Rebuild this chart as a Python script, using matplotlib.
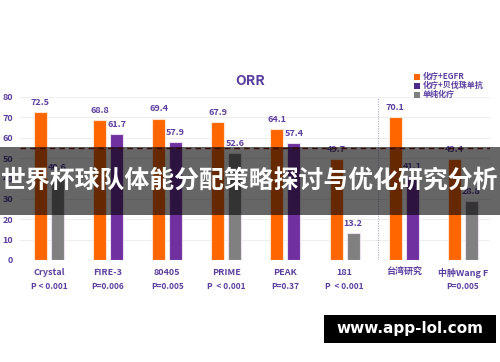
import matplotlib
matplotlib.use("Agg")
import matplotlib.pyplot as plt
from matplotlib.patches import Rectangle

plt.rcParams['font.family'] = ['Noto Sans CJK SC', 'DejaVu Sans']

categories = ["Crystal", "FIRE-3", "80405", "PRIME", "PEAK", "181", "台湾研究", "中肿Wang F"]
p_values = ["P < 0.001", "P=0.006", "P=0.005", "P  < 0.001", "P=0.37", "P  < 0.001", "", "P=0.005"]
egfr = [72.5, 68.8, 69.4, 67.9, 64.1, 49.7, 70.1, 49.4]
second = [40.6, 61.7, 57.9, 52.6, 57.4, 13.2, 41.1, 28.8]
second_kind = ["chemo", "bev", "bev", "chemo", "bev", "chemo", "bev", "chemo"]
legend_labels = ["化疗+EGFR", "化疗+贝伐珠单抗", "单纯化疗"]
y_ticks = [0, 10, 20, 30, 40, 50, 60, 70, 80]
threshold = 55

ORANGE = "#ff6600"
PURPLE = "#7030a0"
GRAY = "#808080"
TXT = "#5b3fa0"
kind_color = {"bev": PURPLE, "chemo": GRAY}

fig = plt.figure(figsize=(5, 3.62), dpi=100)
fig.patch.set_facecolor("white")
ax = fig.add_axes([0.04, 0.2818, 0.94, 0.4503])
ax.set_xlim(-0.49, 7.46)
ax.set_ylim(0, 80)
for s in ax.spines.values():
    s.set_visible(False)
ax.set_yticks(y_ticks)
ax.set_yticklabels([str(t) for t in y_ticks], color=TXT, fontsize=6.5, fontweight="bold")
ax.tick_params(axis="y", length=0, pad=5)
ax.set_xticks([])
for t in y_ticks:
    ax.axhline(t, color="#eeeeee", lw=0.8, zorder=0)

w = 0.22
off = 0.144
xs = list(range(len(categories)))
ax.bar([x - off for x in xs], egfr, width=w, color=ORANGE, edgecolor="#fde3d0", lw=0.8, zorder=2)
ax.bar([x + off for x in xs], second, width=w, color=[kind_color[k] for k in second_kind],
       edgecolor="#e8e0ee", lw=0.8, zorder=2)
for x, v in zip(xs, egfr):
    ax.text(x - off, v + 2.5, f"{v}", ha="center", va="bottom", color=TXT, fontsize=6.5, fontweight="bold")
for x, v in zip(xs, second):
    ax.text(x + off, v + 2.5, f"{v}", ha="center", va="bottom", color=TXT, fontsize=6.5, fontweight="bold")

ax.axhline(threshold, color="#8b1a1a", lw=1.0, ls=(0, (4, 3)), zorder=3)
ax.plot([5.56, 5.56], [0, 80], color="#9a9ac8", lw=0.7, ls=(0, (1, 1.5)), zorder=1)

for x, c, p in zip(xs, categories, p_values):
    ax.text(x, -4, c, ha="center", va="top", color=TXT, fontsize=6.5, fontweight="bold")
    if p:
        ax.text(x, -11, p, ha="center", va="top", color=TXT, fontsize=6, fontweight="bold")

fig.text(0.5, 1 - 81 / 362, "ORR", ha="center", va="center", color=TXT, fontsize=10, fontweight="bold")

legend_colors = [ORANGE, "#4b2a8a", GRAY]
for i, (lab, col) in enumerate(zip(legend_labels, legend_colors)):
    yy = 1 - (77 + i * 8.7) / 362
    fig.patches.append(Rectangle((414 / 500, yy - 0.009), 0.011, 0.016, transform=fig.transFigure,
                                 facecolor=col, edgecolor="none", zorder=5))
    fig.text(423 / 500, yy, lab, ha="left", va="center", color=TXT, fontsize=5.8, fontweight="bold")

# banner overlay
fig.patches.append(Rectangle((0, 1 - 215 / 362), 1, 68 / 362, transform=fig.transFigure,
                             facecolor="black", alpha=0.6, edgecolor="none", zorder=10))
fig.text(0.5, 1 - 181 / 362, "世界杯球队体能分配策略探讨与优化研究分析", ha="center", va="center",
         color="white", fontsize=17.9, fontweight="bold", zorder=11)

# watermark
fig.patches.append(Rectangle((324 / 500, 1 - 343 / 362), 172 / 500, 28 / 362, transform=fig.transFigure,
                             facecolor="black", edgecolor="none", zorder=10))
fig.text(410 / 500, 1 - 329 / 362, "www.app-lol.com", ha="center", va="center",
         color="white", fontsize=11, fontweight="bold", family=["DejaVu Sans"], zorder=11)

fig.savefig("out.png", dpi=100)
